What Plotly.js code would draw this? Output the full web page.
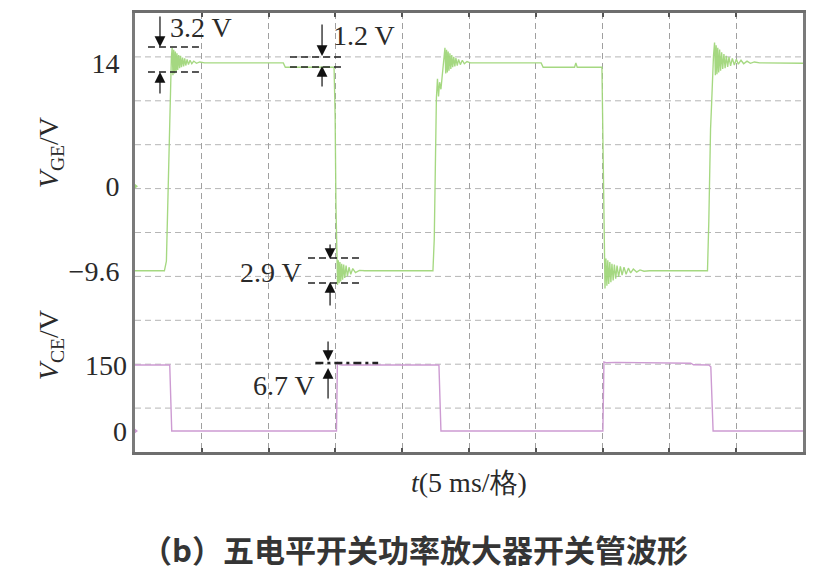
<!DOCTYPE html>
<html>
<head>
<meta charset="utf-8">
<script src="https://cdn.plot.ly/plotly-3.0.1.min.js"></script>
<style>html,body{margin:0;padding:0;background:#fff;}#chart{width:825px;height:581px;}</style>
</head>
<body>
<div id="chart"></div>
<script>
// ---- data (time in ms, 5 ms per division) ----
const vgeTime = [0, 2.2, 2.35, 2.45, 2.55, 2.65, 2.72, 2.78, 2.84, 2.90, 2.96, 3.02, 3.08, 3.14, 3.20, 3.27, 3.34, 3.41, 3.48, 3.56, 3.64, 3.72, 3.80, 3.90, 4.00, 4.12, 4.25, 4.40, 4.60, 4.85, 5.2,
  11.1, 11.25, 14.9, 14.98, 15.04, 15.10, 15.16, 15.22, 15.28, 15.34, 15.40, 15.47, 15.54, 15.62, 15.70, 15.80, 15.90, 16.02, 16.15, 16.30, 16.5, 16.8, 17.2,
  22.3, 22.4, 22.48, 22.56, 22.64, 22.72, 22.8, 22.9, 23.0, 23.1, 23.2, 23.26, 23.32, 23.38, 23.44, 23.5, 23.57, 23.64, 23.71, 23.78, 23.86, 23.94, 24.02, 24.12, 24.22, 24.35, 24.5, 24.65, 24.85, 25.1,
  30.4, 30.55, 32.9, 33.0, 33.1, 34.95, 35.0, 35.06, 35.12, 35.18, 35.25, 35.32, 35.39, 35.46, 35.54, 35.62, 35.70, 35.79, 35.88, 35.98, 36.08, 36.2, 36.33, 36.46, 36.6, 36.76, 36.93, 37.1, 37.3, 37.55, 37.8, 38.1, 38.5,
  42.85, 42.95, 43.02, 43.08, 43.15, 43.22, 43.3, 43.38, 43.44, 43.5, 43.56, 43.62, 43.69, 43.76, 43.83, 43.91, 43.99, 44.08, 44.17, 44.26, 44.36, 44.46, 44.58, 44.71, 44.86, 45.01, 45.16, 45.36, 45.56, 45.81, 46.06, 46.36, 46.76, 50];
const vgeValue = [-9.6, -9.6, -8.5, -2, 6, 11.5, 14.5, 15.7, 12.6, 15.5, 12.8, 15.3, 13.0, 15.1, 13.2, 14.9, 13.4, 14.8, 13.5, 14.6, 13.6, 14.5, 13.7, 14.4, 13.8, 14.3, 13.9, 14.2, 13.95, 14.1, 14.0,
  14.0, 13.5, 13.5, 8, -2, -8, -11.2, -8.4, -11.0, -8.6, -10.8, -8.8, -10.6, -8.9, -10.4, -9.0, -10.2, -9.2, -10.0, -9.35, -9.8, -9.55, -9.6,
  -9.6, -6, 2, 10, 12.2, 10.2, 11.8, 11.0, 12.6, 14.5, 15.7, 12.8, 15.5, 12.9, 15.3, 13.1, 15.1, 13.3, 14.9, 13.5, 14.7, 13.6, 14.55, 13.7, 14.4, 13.8, 14.3, 13.9, 14.15, 14.0,
  14.0, 13.5, 13.5, 14.0, 13.5, 13.5, 8, -2, -9, -11.6, -8.2, -11.3, -8.4, -11.1, -8.6, -10.9, -8.8, -10.7, -8.9, -10.5, -9.0, -10.3, -9.1, -10.1, -9.2, -10.0, -9.3, -9.85, -9.4, -9.75, -9.5, -9.65, -9.6,
  -9.6, -4, 4, 6.5, 9, 12, 14.8, 16.3, 12.6, 16.0, 12.7, 15.7, 12.9, 15.5, 13.1, 15.2, 13.3, 15.0, 13.4, 14.8, 13.55, 14.65, 13.65, 14.5, 13.75, 14.4, 13.85, 14.3, 13.9, 14.2, 13.95, 14.1, 14.0, 13.95];

const vceTime = [0, 2.6, 2.75, 15.08, 15.15, 15.3, 15.5, 22.75, 22.9, 35.02, 35.1, 35.3, 36.0, 38.0, 40.0, 41.6, 41.8, 42.95, 43.1, 43.18, 43.27, 50];
const vceValue = [150, 150, 0, 0, 156.7, 151, 150, 150, 0, 0, 157, 155, 156, 155.5, 155, 154, 150.5, 150, 146, 90, 0, 0];

// channel reference markers (ground level of each channel)
const vgeRefLevel = [0];
const vceRefLevel = [0];

const vgeTicks = [14, 0, -9.6];
const vgeTickText = ['14', '0', '\u22129.6'];
const vceTicks = [150, 0];
const vceTickText = ['150', '0'];
const xGridTicks = [0, 5, 10, 15, 20, 25, 30, 35, 40, 45, 50];

const serif = 'Liberation Serif, Times New Roman, serif';
const txt = '#2a2a2a';
const green = 'rgba(160,214,122,0.95)';
const violet = 'rgba(205,155,210,1)';

const traces = [
  {x: vgeTime, y: vgeValue, type: 'scatter', mode: 'lines', yaxis: 'y',
   line: {color: green, width: 1.35}, hoverinfo: 'skip', showlegend: false},
  {x: vceTime, y: vceValue, type: 'scatter', mode: 'lines', yaxis: 'y2',
   line: {color: violet, width: 1.4}, hoverinfo: 'skip', showlegend: false},
  {x: [0], y: vgeRefLevel, type: 'scatter', mode: 'markers', yaxis: 'y', cliponaxis: false,
   marker: {symbol: 'triangle-right', size: 6, color: green}, hoverinfo: 'skip', showlegend: false},
  {x: [0], y: vceRefLevel, type: 'scatter', mode: 'markers', yaxis: 'y2', cliponaxis: false,
   marker: {symbol: 'triangle-right', size: 6, color: violet}, hoverinfo: 'skip', showlegend: false}
];

// horizontal grid (10 divisions)
const shapes = [];
for (let i = 1; i < 10; i++) {
  shapes.push({type: 'line', xref: 'paper', yref: 'paper', x0: 0, x1: 1, y0: i / 10, y1: i / 10,
    line: {color: '#b5b5b5', width: 1, dash: '6px,4px'}, layer: 'below'});
}
function hdash(x0, x1, y, yref, dash, w) {
  shapes.push({type: 'line', xref: 'x', yref: yref, x0: x0, x1: x1, y0: y, y1: y,
    line: {color: '#222', width: w || 1.4, dash: dash || '7px,4px'}});
}
hdash(0.97, 4.87, 15.80, 'y'); hdash(0.97, 4.87, 12.96, 'y');
hdash(11.6, 15.57, 14.67, 'y'); hdash(11.6, 15.57, 13.53, 'y');
hdash(12.95, 16.84, -8.15, 'y'); hdash(12.95, 16.84, -10.99, 'y');
hdash(13.5, 18.2, 154.5, 'y2', '8px,4px,3px,4px', 2.4);

function arrow(x, yTail, yHead, yref) {
  return {x: x, y: yHead, ax: x, ay: yTail, xref: 'x', yref: yref, axref: 'x', ayref: yref,
    text: '', showarrow: true, arrowhead: 2, arrowsize: 1.8, arrowwidth: 1.2, arrowcolor: '#111', standoff: 0};
}
function label(text, x, y, yref, xanchor) {
  return {x: x, y: y, xref: 'x', yref: yref, text: text, showarrow: false, xanchor: xanchor, yanchor: 'middle',
    font: {family: serif, size: 28, color: txt}};
}
const annotations = [
  arrow(1.87, 19.43, 15.80, 'y'), arrow(1.87, 10.35, 12.96, 'y'),
  arrow(14.0, 18.52, 14.78, 'y'), arrow(14.0, 11.15, 13.64, 'y'),
  arrow(14.6, -6.45, -8.26, 'y'), arrow(14.6, -13.71, -10.87, 'y'),
  arrow(14.45, 206.8, 159.1, 'y2'), arrow(14.45, 70.5, 143.2, 'y2'),
  label('3.2 V', 2.5, 17.96, 'y', 'left'),
  label('1.2 V', 14.65, 17.16, 'y', 'left'),
  label('2.9 V', 12.62, -9.85, 'y', 'right'),
  label('6.7 V', 13.6, 104.5, 'y2', 'right'),
  {xref: 'paper', yref: 'paper', x: -0.127, y: 0.681, xanchor: 'center', yanchor: 'middle', textangle: -90, showarrow: false,
   text: '<i>V</i><sub>GE</sub>/V', font: {family: serif, size: 28, color: txt}},
  {xref: 'paper', yref: 'paper', x: -0.127, y: 0.2437, xanchor: 'center', yanchor: 'middle', textangle: -90, showarrow: false,
   text: '<i>V</i><sub>CE</sub>/V', font: {family: serif, size: 28, color: txt}},
  {xref: 'paper', yref: 'paper', x: 0.5, y: -0.0706, xanchor: 'center', yanchor: 'middle', showarrow: false,
   text: '<i>t</i>(5 ms/格)', font: {family: serif, size: 28, color: txt}},
  {xref: 'paper', yref: 'paper', x: 0.418, y: -0.2187, xanchor: 'center', yanchor: 'middle', showarrow: false,
   text: '（b）五电平开关功率放大器开关管波形', font: {family: 'Noto Sans CJK SC', size: 31, color: '#353535', weight: 'bold'}}
];

const layout = {
  width: 825, height: 581,
  margin: {l: 135, r: 22, t: 13, b: 129},
  paper_bgcolor: '#fff', plot_bgcolor: '#fff',
  showlegend: false,
  xaxis: {range: [0, 50], tickvals: xGridTicks, showticklabels: false, ticks: 'inside', ticklen: 4,
    tickcolor: '#555', tickwidth: 2, showgrid: true, gridcolor: '#a0a0a0', griddash: '6px,4px', gridwidth: 1,
    showline: true, linecolor: '#6e6e6e', linewidth: 3, mirror: 'ticks', zeroline: false, fixedrange: true},
  yaxis: {range: [-30.17, 19.66], tickvals: vgeTicks, ticktext: vgeTickText, ticks: '', showgrid: false,
    zeroline: false, showline: true, linecolor: '#7a7a7a', linewidth: 3, mirror: true,
    tickfont: {family: serif, size: 28, color: txt}, ticklabelstandoff: 7, fixedrange: true},
  yaxis2: {range: [-47.7, 950], overlaying: 'y', side: 'left', tickvals: vceTicks, ticktext: vceTickText,
    ticks: '', showgrid: false, zeroline: false, showline: false,
    tickfont: {family: serif, size: 28, color: txt}, ticklabelstandoff: 7, fixedrange: true},
  shapes: shapes,
  annotations: annotations
};

Plotly.newPlot('chart', traces, layout, {staticPlot: true, displayModeBar: false});
</script>
</body>
</html>
